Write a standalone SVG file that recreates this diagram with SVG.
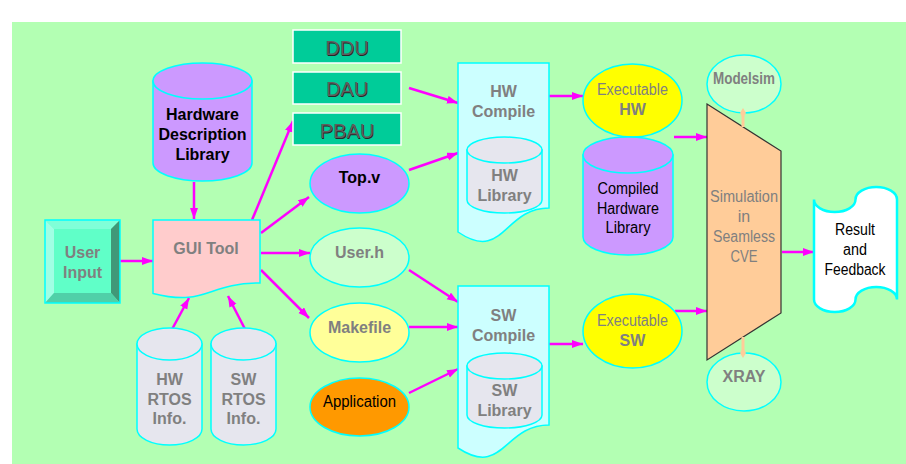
<svg xmlns="http://www.w3.org/2000/svg" width="906" height="464" viewBox="0 0 906 464">
  <defs>
    <marker id="ah" markerUnits="userSpaceOnUse" markerWidth="12" markerHeight="10" refX="11" refY="4" orient="auto">
      <path d="M0,0 L11,4 L0,8 Z" fill="#ff00ff"/>
    </marker>
    <marker id="dm" markerUnits="userSpaceOnUse" markerWidth="10" markerHeight="10" refX="5" refY="4" orient="auto">
      <path d="M0,4 L5,1 L10,4 L5,7 Z" fill="#ffcc99"/>
    </marker>
    <style>
      .bd { stroke: #00ffff; stroke-width: 1.5; }
      .t { font-family: "Liberation Sans", Arial, sans-serif; font-size: 16px; text-anchor: middle; }
      .gb { fill: #808080; font-weight: bold; }
      .kb { fill: #000000; font-weight: bold; }
      .n { font-family: "Liberation Sans Narrow", "Arial Narrow", "Liberation Sans", sans-serif; font-size: 16px; text-anchor: middle; }
      .gn { fill: #808080; }
      .kn { fill: #000000; }
      .box { font-family: "Liberation Sans", Arial, sans-serif; font-size: 20px; text-anchor: middle; }
      .box .sh { fill: #262626; }
      .box .fg { fill: #5e5e5e; }
      .conn line { stroke: #ff00ff; stroke-width: 2.5; marker-end: url(#ah); }
    </style>
  </defs>

  <!-- page background -->
  <rect x="0" y="0" width="906" height="464" fill="#ffffff"/>
  <rect x="12" y="22" width="894" height="442" fill="#b3ffb3"/>

  <!-- connectors -->
  <g id="connectors" class="conn">
    <line x1="194" y1="182" x2="194" y2="219"/>
    <line x1="120" y1="261" x2="153" y2="261"/>
    <line x1="170" y1="333" x2="189" y2="298"/>
    <line x1="247" y1="333" x2="228" y2="296"/>
    <line x1="252" y1="220" x2="293" y2="121"/>
    <line x1="261" y1="233" x2="309" y2="197"/>
    <line x1="261" y1="253" x2="310" y2="253"/>
    <line x1="261" y1="270" x2="309" y2="318"/>
    <line x1="409" y1="88" x2="458" y2="103"/>
    <line x1="409" y1="170" x2="458" y2="153"/>
    <line x1="549" y1="96" x2="583" y2="96"/>
    <line x1="409" y1="270" x2="458" y2="302"/>
    <line x1="409" y1="327" x2="458" y2="327"/>
    <line x1="409" y1="393" x2="458" y2="369"/>
    <line x1="549" y1="344" x2="583" y2="344"/>
    <line x1="674" y1="137" x2="707" y2="137"/>
    <line x1="675" y1="311" x2="707" y2="311"/>
    <line x1="782" y1="252" x2="814" y2="252"/>
  </g>

  <!-- Hardware Description Library -->
  <g id="hdl">
    <path class="bd" fill="#cc99ff" d="M153,81 V163 A49.5,18 0 0 0 252,163 V81 Z"/>
    <ellipse class="bd" fill="#cc99ff" cx="202.5" cy="81" rx="49.5" ry="18"/>
    <text class="t kb" x="202.5" y="120">Hardware</text>
    <text class="t kb" x="202.5" y="140">Description</text>
    <text class="t kb" x="202.5" y="160">Library</text>
  </g>

  <!-- User Input (bevel) -->
  <g id="user-input">
    <rect x="45" y="220" width="75" height="83" fill="#60ffc8"/>
    <polygon points="45,220 120,220 111,229 54,229" fill="#80ffd8"/>
    <polygon points="45,220 54,229 54,293 45,303" fill="#a0ffe4"/>
    <polygon points="120,220 120,303 111,293 111,229" fill="#409878"/>
    <polygon points="45,303 120,303 111,293 54,293" fill="#50d0a8"/>
    <rect x="45" y="220" width="75" height="83" fill="none" class="bd"/>
    <text class="t gb" x="82.5" y="258">User</text>
    <text class="t gb" x="82.5" y="278">Input</text>
  </g>

  <!-- GUI Tool -->
  <g id="gui-tool">
    <path class="bd" fill="#ffcccc" d="M153,220 H260 V283 C206.5,283 206.5,307 153,293.4 Z"/>
    <text class="t gb" x="206" y="254">GUI Tool</text>
  </g>

  <!-- RTOS info stores -->
  <g id="hw-rtos">
    <path class="bd" fill="#e6e6ee" d="M137,344 V429 A32.5,16 0 0 0 202,429 V344 Z"/>
    <ellipse class="bd" fill="#e6e6ee" cx="169.5" cy="344" rx="32.5" ry="16"/>
    <text class="t gb" x="169.5" y="385">HW</text>
    <text class="t gb" x="169.5" y="405">RTOS</text>
    <text class="t gb" x="169.5" y="424">Info.</text>
  </g>
  <g id="sw-rtos">
    <path class="bd" fill="#e6e6ee" d="M211,344 V429 A32.5,16 0 0 0 276,429 V344 Z"/>
    <ellipse class="bd" fill="#e6e6ee" cx="243.5" cy="344" rx="32.5" ry="16"/>
    <text class="t gb" x="243.5" y="385">SW</text>
    <text class="t gb" x="243.5" y="405">RTOS</text>
    <text class="t gb" x="243.5" y="424">Info.</text>
  </g>

  <!-- hardware units (embossed labels: dark shadow under grey text) -->
  <g id="ddu" class="box">
    <rect x="293" y="30" width="108" height="33" fill="#00cc99" stroke="#ffffff" stroke-width="1.5"/>
    <text class="sh" x="347.8" y="55.8">DDU</text>
    <text class="fg" x="347" y="55">DDU</text>
  </g>
  <g id="dau" class="box">
    <rect x="293" y="72" width="108" height="32" fill="#00cc99" stroke="#ffffff" stroke-width="1.5"/>
    <text class="sh" x="347.8" y="96.8">DAU</text>
    <text class="fg" x="347" y="96">DAU</text>
  </g>
  <g id="pbau" class="box">
    <rect x="293" y="113" width="108" height="32" fill="#00cc99" stroke="#ffffff" stroke-width="1.5"/>
    <text class="sh" x="347.8" y="138.8">PBAU</text>
    <text class="fg" x="347" y="138">PBAU</text>
  </g>

  <!-- generated files -->
  <g id="top-v">
    <ellipse class="bd" fill="#cc99ff" cx="359.5" cy="183.5" rx="49.5" ry="29.5"/>
    <text class="t kb" x="359.5" y="183">Top.v</text>
  </g>
  <g id="user-h">
    <ellipse class="bd" fill="#ccffcc" cx="359.5" cy="257.5" rx="49.5" ry="29.5"/>
    <text class="t gb" x="359.5" y="258">User.h</text>
  </g>
  <g id="makefile">
    <ellipse class="bd" fill="#ffff99" cx="359.5" cy="332.5" rx="49.5" ry="29.5"/>
    <text class="t gb" x="359.5" y="333">Makefile</text>
  </g>
  <g id="application">
    <ellipse class="bd" fill="#ff9900" cx="359.5" cy="407" rx="49.5" ry="29"/>
    <text class="n kn" x="359.5" y="407" textLength="73" lengthAdjust="spacingAndGlyphs">Application</text>
  </g>

  <!-- HW Compile -->
  <g id="hw-compile">
    <path class="bd" fill="#ccffff" d="M458,63 H549 V208 C503.5,208 503.5,263 458,232 Z"/>
    <text class="t gb" x="503.5" y="97">HW</text>
    <text class="t gb" x="503.5" y="117">Compile</text>
    <path class="bd" fill="#e6e6ee" d="M467,150 V200 A37.5,13 0 0 0 542,200 V150 Z"/>
    <ellipse class="bd" fill="#e6e6ee" cx="504.5" cy="150" rx="37.5" ry="13"/>
    <text class="t gb" x="504.5" y="181">HW</text>
    <text class="t gb" x="504.5" y="201">Library</text>
  </g>

  <!-- SW Compile -->
  <g id="sw-compile">
    <path class="bd" fill="#ccffff" d="M458,286 H549 V425 C503.5,425 503.5,478 458,448 Z"/>
    <text class="t gb" x="503.5" y="321">SW</text>
    <text class="t gb" x="503.5" y="341">Compile</text>
    <path class="bd" fill="#e6e6ee" d="M467,366 V415 A37.5,13 0 0 0 542,415 V366 Z"/>
    <ellipse class="bd" fill="#e6e6ee" cx="504.5" cy="366" rx="37.5" ry="13"/>
    <text class="t gb" x="504.5" y="396">SW</text>
    <text class="t gb" x="504.5" y="416">Library</text>
  </g>

  <!-- executables -->
  <g id="exec-hw">
    <ellipse class="bd" fill="#ffff00" cx="632.5" cy="100.5" rx="49.5" ry="36.5"/>
    <text class="n gn" x="632.5" y="95" textLength="71" lengthAdjust="spacingAndGlyphs">Executable</text>
    <text class="t gb" x="632.5" y="115">HW</text>
  </g>
  <g id="exec-sw">
    <ellipse class="bd" fill="#ffff00" cx="632.5" cy="331" rx="49.5" ry="37"/>
    <text class="n gn" x="632.5" y="326" textLength="71" lengthAdjust="spacingAndGlyphs">Executable</text>
    <text class="t gb" x="632.5" y="346">SW</text>
  </g>

  <!-- Compiled Hardware Library -->
  <g id="compiled-hw-lib">
    <path class="bd" fill="#cc99ff" d="M583,155 V237 A45,18 0 0 0 673,237 V155 Z"/>
    <ellipse class="bd" fill="#cc99ff" cx="628" cy="155" rx="45" ry="18"/>
    <text class="n kn" x="628" y="194" textLength="61" lengthAdjust="spacingAndGlyphs">Compiled</text>
    <text class="n kn" x="628" y="214" textLength="62" lengthAdjust="spacingAndGlyphs">Hardware</text>
    <text class="n kn" x="628" y="233" textLength="45" lengthAdjust="spacingAndGlyphs">Library</text>
  </g>

  <!-- tools attached to the simulator -->
  <g id="modelsim">
    <ellipse class="bd" fill="#ccffcc" cx="744" cy="84" rx="37" ry="29"/>
    <text class="n gn" x="744" y="84" font-weight="bold" textLength="62" lengthAdjust="spacingAndGlyphs">Modelsim</text>
  </g>
  <g id="xray">
    <ellipse class="bd" fill="#ccffcc" cx="744" cy="382" rx="37" ry="29"/>
    <text class="t gb" x="744" y="382">XRAY</text>
  </g>

  <!-- Simulation in Seamless CVE -->
  <g id="simulation">
    <polygon points="707,104 781,151 781,313 707,360" fill="#ffcc99" stroke="#333333" stroke-width="1.2"/>
    <line x1="743" y1="127" x2="743" y2="113" stroke="#ffcc99" stroke-width="3" marker-end="url(#dm)"/>
    <line x1="743" y1="337" x2="743" y2="353" stroke="#ffcc99" stroke-width="3" marker-end="url(#dm)"/>
    <text class="n gn" x="744" y="202" textLength="68" lengthAdjust="spacingAndGlyphs">Simulation</text>
    <text class="n gn" x="744" y="222">in</text>
    <text class="n gn" x="744" y="242" textLength="62" lengthAdjust="spacingAndGlyphs">Seamless</text>
    <text class="n gn" x="744" y="262" textLength="27" lengthAdjust="spacingAndGlyphs">CVE</text>
  </g>

  <!-- Result and Feedback -->
  <g id="result">
    <path fill="#ffffff" stroke="#00ffff" stroke-width="2.5" d="M814,199.5 A20.75,12.5 0 0 0 855.5,199.5 A20.75,12.5 0 0 1 897,199.5 L897,299.5 A20.75,12.5 0 0 0 855.5,299.5 A20.75,12.5 0 0 1 814,299.5 Z"/>
    <text class="n kn" x="855" y="235" textLength="40" lengthAdjust="spacingAndGlyphs">Result</text>
    <text class="n kn" x="855" y="255" textLength="24" lengthAdjust="spacingAndGlyphs">and</text>
    <text class="n kn" x="855" y="275" textLength="61" lengthAdjust="spacingAndGlyphs">Feedback</text>
  </g>
</svg>
